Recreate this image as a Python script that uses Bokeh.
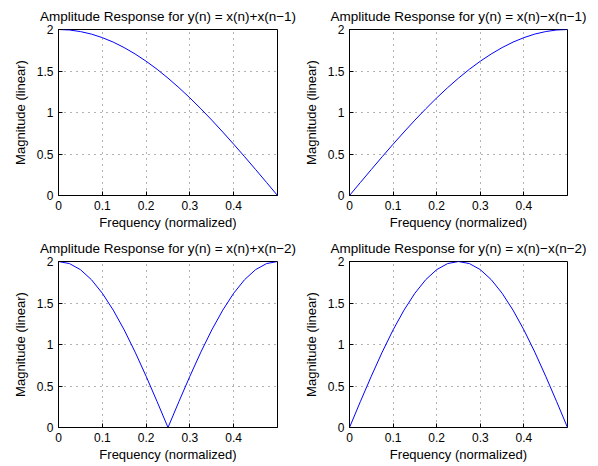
from bokeh.plotting import figure
from bokeh.layouts import gridplot
from bokeh.models import Range1d, FixedTicker
from bokeh.embed import file_html
from bokeh.resources import INLINE

freq = [0.0, 0.025, 0.05, 0.075, 0.1, 0.125, 0.15, 0.175, 0.2, 0.225, 0.25,
        0.275, 0.3, 0.325, 0.35, 0.375, 0.4, 0.425, 0.45, 0.475, 0.5]

mag_sum1 = [2.0, 1.994, 1.975, 1.945, 1.902, 1.848, 1.782, 1.705, 1.618, 1.521, 1.414,
            1.299, 1.176, 1.045, 0.908, 0.765, 0.618, 0.467, 0.313, 0.157, 0.0]
mag_diff1 = [0.0, 0.157, 0.313, 0.467, 0.618, 0.765, 0.908, 1.045, 1.176, 1.299, 1.414,
             1.521, 1.618, 1.705, 1.782, 1.848, 1.902, 1.945, 1.975, 1.994, 2.0]
mag_sum2 = [2.0, 1.975, 1.902, 1.782, 1.618, 1.414, 1.176, 0.908, 0.618, 0.313, 0.0,
            0.313, 0.618, 0.908, 1.176, 1.414, 1.618, 1.782, 1.902, 1.975, 2.0]
mag_diff2 = [0.0, 0.313, 0.618, 0.908, 1.176, 1.414, 1.618, 1.782, 1.902, 1.975, 2.0,
             1.975, 1.902, 1.782, 1.618, 1.414, 1.176, 0.908, 0.618, 0.313, 0.0]

titles = ["Amplitude Response for y(n) = x(n)+x(n\u22121)",
          "Amplitude Response for y(n) = x(n)\u2212x(n\u22121)",
          "Amplitude Response for y(n) = x(n)+x(n\u22122)",
          "Amplitude Response for y(n) = x(n)\u2212x(n\u22122)"]
x_ticks = [0, 0.1, 0.2, 0.3, 0.4]
y_ticks = [0, 0.5, 1, 1.5, 2]
x_label = "Frequency (normalized)"
y_label = "Magnitude (linear)"

FONT = "Liberation Sans"


def style_axis(ax):
    ax.axis_line_color = "black"
    ax.major_tick_in = 4
    ax.major_tick_out = 0
    ax.major_tick_line_color = "black"
    ax.minor_tick_line_color = None
    ax.major_label_text_font = FONT
    ax.major_label_text_font_size = "12px"
    ax.major_label_text_color = "black"
    ax.axis_label_text_font = FONT
    ax.axis_label_text_font_size = "13px"
    ax.axis_label_text_font_style = "normal"
    ax.axis_label_text_color = "black"


def make(title, ys, W, H, bl, br, bt, bb):
    p = figure(width=W, height=H, output_backend="svg", toolbar_location=None,
               x_range=Range1d(0, 0.5), y_range=Range1d(0, 2),
               min_border_left=bl, min_border_right=br,
               min_border_top=bt, min_border_bottom=bb,
               title=title,
               background_fill_color="white", border_fill_color="white")
    p.title.text_font = FONT
    p.title.text_font_size = "13.5px"
    p.title.text_font_style = "normal"
    p.title.text_color = "black"
    p.title.align = "center"
    p.title.standoff = 11
    p.outline_line_color = "black"
    p.outline_line_width = 1
    p.outline_line_alpha = 1
    p.line(freq, ys, line_color="#0000ff", line_width=1)

    xa = p.xaxis[0]
    ya = p.yaxis[0]
    xa.ticker = FixedTicker(ticks=x_ticks)
    ya.ticker = FixedTicker(ticks=y_ticks)
    xa.major_label_overrides = {0: "0", 0.1: "0.1", 0.2: "0.2", 0.3: "0.3", 0.4: "0.4"}
    ya.major_label_overrides = {0: "0", 0.5: "0.5", 1: "1", 1.5: "1.5", 2: "2"}
    style_axis(xa)
    style_axis(ya)
    xa.axis_label = x_label
    ya.axis_label = y_label
    xa.major_label_standoff = 5
    xa.axis_label_standoff = 2
    ya.major_label_standoff = 5
    ya.axis_label_standoff = 6
    for g in (p.xgrid[0], p.ygrid[0]):
        g.grid_line_color = "#666666"
        g.grid_line_alpha = 1
        g.grid_line_dash = "1 5"
        g.grid_line_width = 1
    return p


p1 = make(titles[0], mag_sum1, 300, 233, 58, 23, 29, 38)
p2 = make(titles[1], mag_diff1, 292, 233, 47, 25, 29, 38)
p3 = make(titles[2], mag_sum2, 300, 231, 58, 23, 28, 36)
p4 = make(titles[3], mag_diff2, 292, 231, 47, 25, 28, 36)

grid = gridplot([[p1, p2], [p3, p4]], toolbar_location=None)

open("out.html", "w").write(file_html(grid, INLINE))
